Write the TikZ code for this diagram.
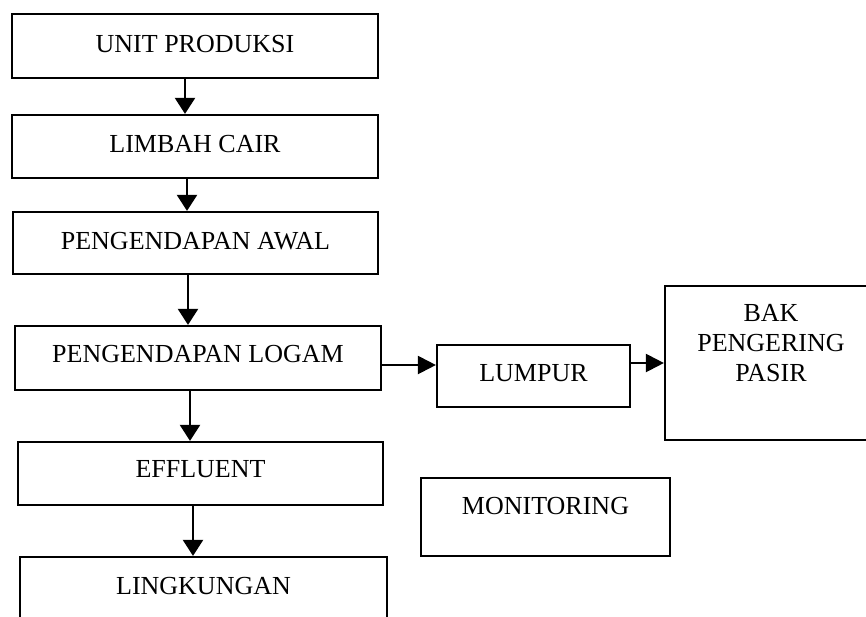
\documentclass[tikz,border=0pt]{standalone}
\usepackage{fontspec}
\setmainfont{Liberation Serif}
\usetikzlibrary{arrows.meta}

\begin{document}
\begin{tikzpicture}[x=1pt,y=-1pt,
  box/.style={draw=black, line width=2.2pt, inner sep=0pt, fill=white,
              font=\fontsize{26}{30}\selectfont, text=black},
  varr/.style={line width=2.2pt, -{Triangle[width=20pt,length=16pt]}},
  harr/.style={line width=2.2pt, -{Triangle[width=18pt,length=18pt]}}]

\useasboundingbox (0,0) rectangle (866,616);
\clip (0,0) rectangle (866,616);
\fill[white] (0,0) rectangle (866,616);

% main process chain
\node[box, minimum width=366pt, text height=38pt, text depth=26pt] (unit) at (195,46) {UNIT PRODUKSI};
\node[box, minimum width=366pt, text height=37pt, text depth=26pt] (limbah) at (195,146.5) {LIMBAH CAIR};
\node[box, minimum width=365pt, text height=37pt, text depth=25pt] (awal) at (195.5,243) {PENGENDAPAN AWAL};
\node[box, minimum width=366pt, text height=36pt, text depth=28pt] (logam) at (198,358) {PENGENDAPAN LOGAM};
\node[box, minimum width=365pt, text height=35pt, text depth=28pt] (eff) at (200.5,473.5) {EFFLUENT};
\node[box, minimum width=367pt, text height=37pt, text depth=33pt] (ling) at (203.5,592) {LINGKUNGAN};

% sludge branch
\node[box, minimum width=193pt, text height=36pt, text depth=26pt] (lumpur) at (533.5,376) {LUMPUR};
\node[box, minimum width=212pt, minimum height=154pt] (bak) at (771,363) {};
\node[font=\fontsize{26}{30}\selectfont, align=center, inner sep=0pt] (baktxt) at (771,343) {BAK\\PENGERING\\PASIR};

\node[box, minimum width=249pt, text height=36pt, text depth=42pt] (mon) at (545.5,517) {MONITORING};

% vertical connectors
\draw[varr] ([xshift=-10pt]unit.south) -- ([xshift=-10pt]unit.south |- limbah.north);
\draw[varr] ([xshift=-8pt]limbah.south) -- ([xshift=-8pt]limbah.south |- awal.north);
\draw[varr] ([xshift=-7.5pt]awal.south) -- ([xshift=-7.5pt]awal.south |- logam.north);
\draw[varr] ([xshift=-8pt]logam.south) -- ([xshift=-8pt]logam.south |- eff.north);
\draw[varr] ([xshift=-7.5pt]eff.south) -- ([xshift=-7.5pt]eff.south |- ling.north);

% horizontal connectors
\coordinate (lin) at ([yshift=11pt]lumpur.west);
\draw[harr] (lin -| logam.east) -- (lin);
\draw[harr] (lumpur.east |- bak.west) -- (bak.west);

\end{tikzpicture}
\end{document}
